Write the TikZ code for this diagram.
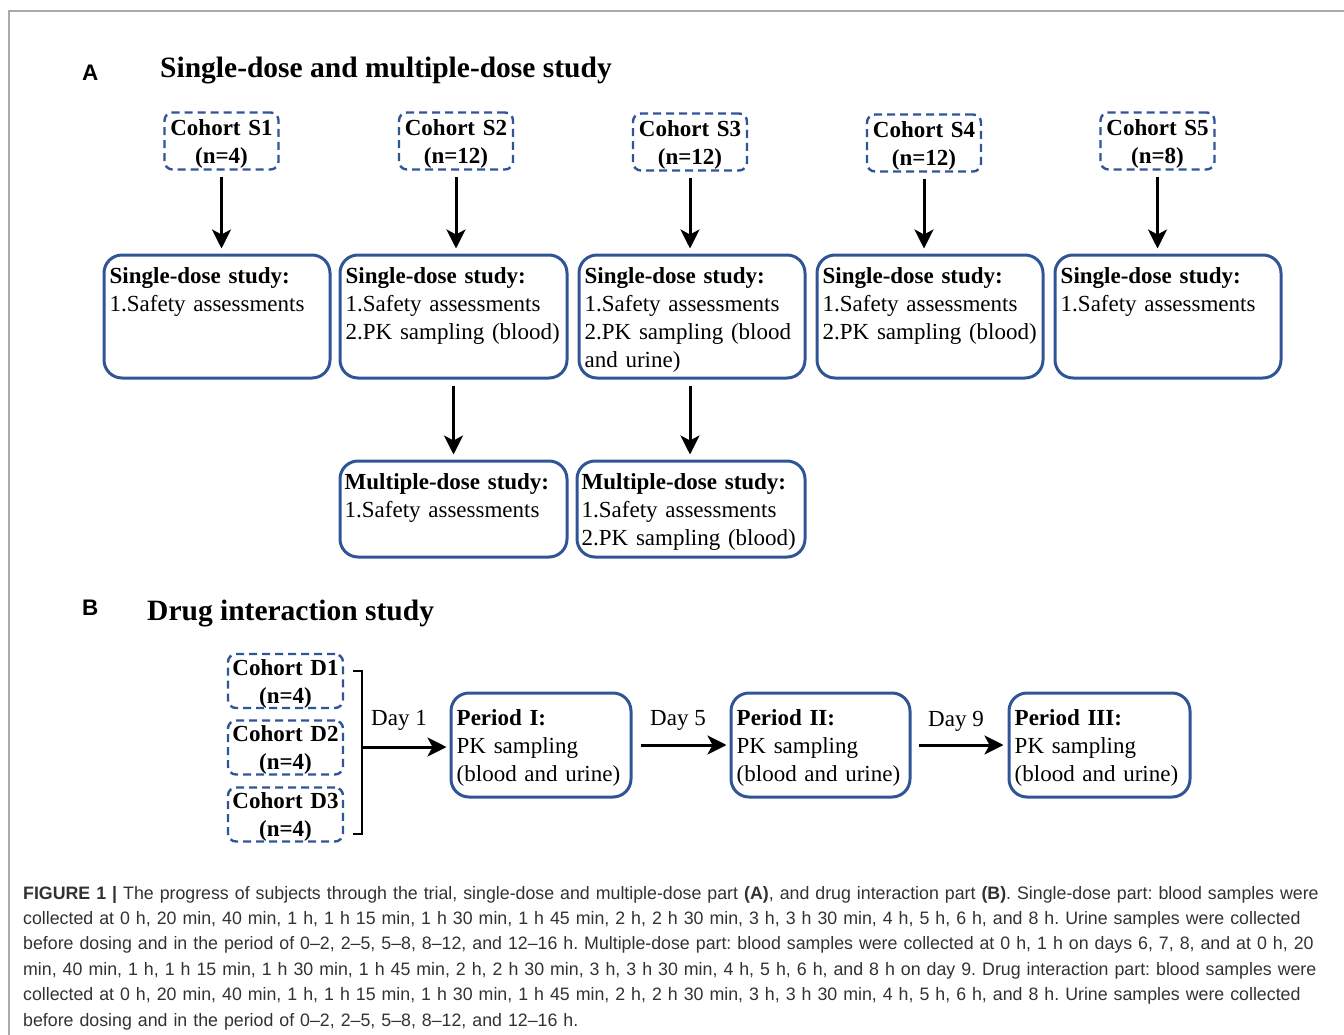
\documentclass[tikz,border=0pt]{standalone}
\usepackage{fontspec}
\setmainfont{Liberation Serif}
\newfontfamily\capfont[FakeStretch=0.987]{Liberation Sans}
\newfontfamily\labfont{Liberation Sans}
\usetikzlibrary{arrows.meta}
\definecolor{boxblue}{RGB}{47,85,151}
\definecolor{framegray}{RGB}{170,170,170}
\definecolor{captext}{RGB}{50,50,50}
\tikzset{
  cohort/.style={draw=boxblue, line width=2.4pt, dash pattern=on 8pt off 5pt, rounded corners=8pt, minimum width=114pt, minimum height=57pt, inner sep=0pt},
  studybox/.style={draw=boxblue, line width=3pt, rounded corners=18pt, inner sep=0pt},
  boxtext/.style={anchor=base west, inner sep=0pt, align=left, text width=230pt, font=\fontsize{23}{28}\selectfont},
  cohtext/.style={anchor=base, inner sep=0pt, align=center, text width=114pt, font=\bfseries\fontsize{23}{28}\selectfont},
  daytext/.style={anchor=base west, inner sep=0pt, font=\fontsize{23}{28}\selectfont},
  flow/.style={line width=3pt, -{Stealth[length=19pt,width=19pt,inset=5pt]}, shorten <=6pt, shorten >=5pt},
  lab/.style={anchor=base west, inner sep=0pt, font=\labfont\bfseries\fontsize{22.5}{26}\selectfont},
  ttl/.style={anchor=base west, inner sep=0pt, font=\bfseries\fontsize{29.5}{34}\selectfont},
}
\begin{document}
\begin{tikzpicture}[x=1pt, y=-1pt]
\useasboundingbox (0,0) rectangle (1344,1035);
\draw[framegray, line width=1.6pt] (1344,11) -- (9,11) -- (9,1035);

% Titles
\node[lab] (labA) at (82,81) {A};
\node[ttl] (titA) at (160,78) {Single-dose and multiple-dose study};
\node[lab] (labB) at (82,615) {B};
\node[ttl] (titB) at (147,620) {Drug interaction study};

% Cohorts (part A)
\node[cohort] (c1) at (221.5,141) {};
\node[cohort] (c2) at (456,141) {};
\node[cohort] (c3) at (690,142) {};
\node[cohort] (c4) at (924,143) {};
\node[cohort] (c5) at (1157.5,141) {};
\node[cohtext] (c1t) at ([yshift=5pt]c1.center) {Cohort S1\\(n=4)};
\node[cohtext] (c2t) at ([yshift=5pt]c2.center) {Cohort S2\\(n=12)};
\node[cohtext] (c3t) at ([yshift=5pt]c3.center) {Cohort S3\\(n=12)};
\node[cohtext] (c4t) at ([yshift=5pt]c4.center) {Cohort S4\\(n=12)};
\node[cohtext] (c5t) at ([yshift=5pt]c5.center) {Cohort S5\\(n=8)};

% Single-dose boxes
\node[studybox, minimum width=226pt, minimum height=123pt] (s1) at (217,316.5) {};
\node[studybox, minimum width=227pt, minimum height=123pt] (s2) at (453.5,316.5) {};
\node[studybox, minimum width=226pt, minimum height=123pt] (s3) at (692,316.5) {};
\node[studybox, minimum width=226pt, minimum height=123pt] (s4) at (930,316.5) {};
\node[studybox, minimum width=226pt, minimum height=123pt] (s5) at (1168,316.5) {};
\node[boxtext] (s1t) at ([xshift=7pt,yshift=-30pt]s1.north west) {\textbf{Single-dose study:}\\1.Safety assessments};
\node[boxtext] (s2t) at ([xshift=7pt,yshift=-30pt]s2.north west) {\textbf{Single-dose study:}\\1.Safety assessments\\2.PK sampling (blood)};
\node[boxtext] (s3t) at ([xshift=7pt,yshift=-30pt]s3.north west) {\textbf{Single-dose study:}\\1.Safety assessments\\2.PK sampling (blood\\and urine)};
\node[boxtext] (s4t) at ([xshift=7pt,yshift=-30pt]s4.north west) {\textbf{Single-dose study:}\\1.Safety assessments\\2.PK sampling (blood)};
\node[boxtext] (s5t) at ([xshift=7pt,yshift=-30pt]s5.north west) {\textbf{Single-dose study:}\\1.Safety assessments};

% Multiple-dose boxes
\node[studybox, minimum width=227pt, minimum height=96pt] (m2) at (453.5,509) {};
\node[studybox, minimum width=228pt, minimum height=96pt] (m3) at (691,509) {};
\node[boxtext] (m2t) at ([xshift=6pt,yshift=-30pt]m2.north west) {\textbf{Multiple-dose study:}\\1.Safety assessments};
\node[boxtext] (m3t) at ([xshift=6pt,yshift=-30pt]m3.north west) {\textbf{Multiple-dose study:}\\1.Safety assessments\\2.PK sampling (blood)};

% Arrows part A
\draw[flow] (c1.south) -- (c1.south |- s1.north);
\draw[flow] (c2.south) -- (c2.south |- s2.north);
\draw[flow] (c3.south) -- (c3.south |- s3.north);
\draw[flow] (c4.south) -- (c4.south |- s4.north);
\draw[flow] (c5.south) -- (c5.south |- s5.north);
\draw[flow] (s2.south) -- (s2.south |- m2.north);
\draw[flow] (c3.south |- s3.south) -- (c3.south |- m3.north);

% Part B cohorts
\node[cohort, minimum width=115pt, minimum height=54pt] (d1) at (285.5,681) {};
\node[cohort, minimum width=115pt, minimum height=54pt] (d2) at (285.5,747.5) {};
\node[cohort, minimum width=115pt, minimum height=54pt] (d3) at (285.5,814.5) {};
\node[cohtext] (d1t) at ([yshift=6pt]d1.center) {Cohort D1\\(n=4)};
\node[cohtext] (d2t) at ([yshift=6pt]d2.center) {Cohort D2\\(n=4)};
\node[cohtext] (d3t) at ([yshift=6pt]d3.center) {Cohort D3\\(n=4)};

% Period boxes
\node[studybox, minimum width=180pt, minimum height=104pt] (p1) at (541,745) {};
\node[studybox, minimum width=179pt, minimum height=104pt] (p2) at (820.5,745) {};
\node[studybox, minimum width=181pt, minimum height=104pt] (p3) at (1099.5,745) {};
\node[boxtext] (p1t) at ([xshift=7pt,yshift=-33.5pt]p1.north west) {\textbf{Period I:}\\PK sampling\\(blood and urine)};
\node[boxtext] (p2t) at ([xshift=7pt,yshift=-33.5pt]p2.north west) {\textbf{Period II:}\\PK sampling\\(blood and urine)};
\node[boxtext] (p3t) at ([xshift=7pt,yshift=-33.5pt]p3.north west) {\textbf{Period III:}\\PK sampling\\(blood and urine)};

% Bracket and arrows part B
\draw[line width=2pt] ([xshift=9pt,yshift=-18pt]d1.north east) -- ++(9,0) |- ([xshift=9pt,yshift=9pt]d3.south east);
\coordinate (br) at (361,747);
\draw[flow, shorten <=0pt, shorten >=3pt] (br) -- (br -| p1.west);
\draw[flow, shorten <=8pt, shorten >=3pt] (p1.east) -- (p2.west);
\draw[flow, shorten <=7pt, shorten >=4pt] (p2.east) -- (p3.west);
\node[daytext] (day1) at (371,725.5) {Day 1};
\node[daytext] (day5) at (650,725) {Day 5};
\node[daytext] (day9) at (928,726) {Day 9};

% Caption
\node[anchor=base west, inner sep=0pt, align=left, text width=1400pt, text=captext, font=\capfont\fontsize{18}{25.4}\selectfont\frenchspacing] (cap) at (23,899) {\textbf{FIGURE 1 |} The progress of subjects through the trial, single-dose and multiple-dose part \textbf{(A)}, and drug interaction part \textbf{(B)}. Single-dose part: blood samples were\\
collected at 0 h, 20 min, 40 min, 1 h, 1 h 15 min, 1 h 30 min, 1 h 45 min, 2 h, 2 h 30 min, 3 h, 3 h 30 min, 4 h, 5 h, 6 h, and 8 h. Urine samples were collected\\
before dosing and in the period of 0–2, 2–5, 5–8, 8–12, and 12–16 h. Multiple-dose part: blood samples were collected at 0 h, 1 h on days 6, 7, 8, and at 0 h, 20\\
min, 40 min, 1 h, 1 h 15 min, 1 h 30 min, 1 h 45 min, 2 h, 2 h 30 min, 3 h, 3 h 30 min, 4 h, 5 h, 6 h, and 8 h on day 9. Drug interaction part: blood samples were\\
collected at 0 h, 20 min, 40 min, 1 h, 1 h 15 min, 1 h 30 min, 1 h 45 min, 2 h, 2 h 30 min, 3 h, 3 h 30 min, 4 h, 5 h, 6 h, and 8 h. Urine samples were collected\\
before dosing and in the period of 0–2, 2–5, 5–8, 8–12, and 12–16 h.};
\end{tikzpicture}
\end{document}
